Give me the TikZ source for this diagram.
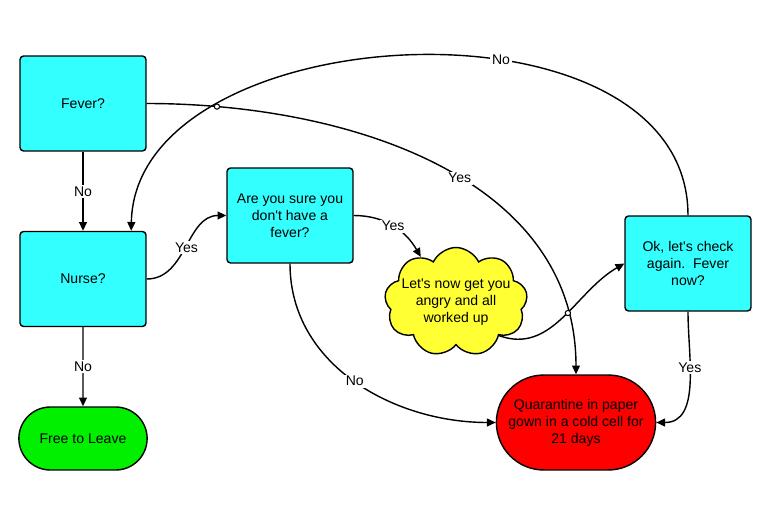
\documentclass[tikz,border=0pt]{standalone}
\usepackage{fontspec}
\setmainfont{Liberation Sans}
\usetikzlibrary{arrows.meta,shapes.misc,shapes.symbols,intersections}
\definecolor{qcyan}{RGB}{51,255,255}
\definecolor{qgreen}{RGB}{0,240,0}
\definecolor{qred}{RGB}{255,0,0}
\definecolor{qyellow}{RGB}{255,255,51}
\tikzset{
  txt/.style={font=\fontsize{8}{9.6}\selectfont,align=center},
  box/.style={txt,draw,line width=0.8pt,rounded corners=2pt,fill=qcyan,minimum width=2.52cm,minimum height=1.9cm},
  term/.style={txt,draw,line width=0.8pt,rounded rectangle},
  lbl/.style={txt,fill=white,inner sep=1pt},
  flow/.style={->,line width=0.8pt}
}
\newcommand{\apos}{\textquotesingle}
\begin{document}
\begin{tikzpicture}[x=0.02cm,y=0.02cm,>={Triangle[length=5pt,width=4.5pt]}]
\useasboundingbox (0,0) rectangle (768,512);
\node[box] (fever) at (83,408.5) {Fever?};
\node[box] (nurse) at (83,233) {Nurse?};
\node[term,fill=qgreen,minimum width=2.8cm,minimum height=1.26cm] (free) at (83,73.5) {Free to Leave};
\node[box] (sure) at (290,296.5) {Are you sure you\\don\apos t have a\\fever?};
\node[draw,line width=0.8pt,fill=qyellow,cloud,cloud puffs=9,cloud puff arc=130,
  minimum width=2.86cm,minimum height=2.18cm,inner sep=0pt] (angry) at (456,210) {};
\node[txt] at (angry) {Let\apos s now get you\\angry and all\\worked up};
\node[box] (check) at (688,248.5) {Ok, let\apos s check\\again.\ \ Fever\\now?};
\node[term,fill=qred,minimum width=3.16cm,minimum height=1.9cm] (quar) at (576,89.5)
  {Quarantine in paper\\gown in a cold cell for\\21 days};

\draw[flow] (fever) -- node[lbl] {No} (nurse);
\draw[flow] (nurse) -- node[lbl] {No} (free);
\draw[flow] (nurse.east) to[out=0,in=180] node[lbl] {Yes} (sure.west);
\draw[flow] (sure.east) to[out=0,in=120] node[lbl] {Yes} (angry.128);
\draw[flow] (sure.south) to[out=-90,in=180] node[lbl] {No} (quar.west);
\draw[flow,name path=again] (angry.-38) to[out=-20,in=210] (check.west);
\draw[flow,name path=fast] (fever.east) to[out=0,in=90] node[lbl,pos=0.55] {Yes} (quar.north);
\draw[flow,name path=loop] (check.north) .. controls (688,527) and (135,497) .. node[lbl,pos=0.39] {No} (nurse.45);
\draw[flow] (check.south) to[out=-90,in=0] node[lbl,pos=0.38] {Yes} (quar.east);

% small hops where lines cross
\path[name intersections={of=fast and loop,name=h}];
\path[name intersections={of=fast and again,name=k}];
\draw[line width=0.6pt,fill=white] (h-1) circle[radius=1.5pt];
\draw[line width=0.6pt,fill=white] (k-1) circle[radius=1.5pt];
\end{tikzpicture}
\end{document}
